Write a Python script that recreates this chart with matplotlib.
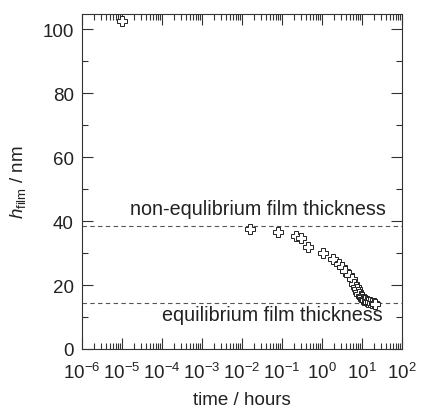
import matplotlib
matplotlib.use("Agg")
import matplotlib.pyplot as plt
from matplotlib.ticker import LogLocator, MultipleLocator, NullFormatter

plt.rcParams['font.family'] = ['Liberation Sans', 'DejaVu Sans']
plt.rcParams['mathtext.fontset'] = 'custom'
plt.rcParams['mathtext.rm'] = 'Liberation Sans'
plt.rcParams['mathtext.it'] = 'Liberation Sans:italic'

time_h = [1e-5, 0.016, 0.078, 0.23, 0.30, 0.45, 1.08, 1.9, 2.6, 3.1, 3.8, 4.6, 5.5, 6.3,
          7.0, 7.4, 8.0, 8.5, 9.2, 9.8, 10.5, 11.2, 12.0, 13.0, 14.5, 16.0, 17.4, 19.5, 21.4]
h_film = [102.5, 37.5, 36.7, 35.4, 34.6, 31.8, 29.9, 28.1, 26.6, 25.5, 24.5, 23.1, 21.9, 20.3,
          19.4, 18.75, 17.8, 17.2, 16.6, 16.1, 15.7, 15.4, 15.2, 15.0, 14.8, 14.6, 14.4, 14.3, 14.2]
noneq_h = 38.3
eq_h = 14.5

gray = '#333333'
fig = plt.figure(figsize=(4.21, 4.14), dpi=100)
ax = fig.add_axes([82/421, 64/414, 320/421, 335/414])
ax.set_xscale('log')
ax.set_xlim(1e-6, 1e2)
ax.set_ylim(0, 104.7)
ax.axhline(noneq_h, color='#555555', ls=(0, (4, 3)), lw=0.8)
ax.axhline(eq_h, color='#555555', ls=(0, (4, 3)), lw=0.8)
ax.plot(time_h, h_film, ls='none', marker='P', ms=7.5, mfc='white', mec='#222222', mew=0.7)
ax.text(1.6e-5, 42.2, 'non-equlibrium film thickness', fontsize=14.2, color='#222222')
ax.text(1.0e-4, 9.2, 'equilibrium film thickness', fontsize=14.2, color='#222222')

ax.xaxis.set_major_locator(LogLocator(base=10, numticks=20))
ax.xaxis.set_minor_locator(LogLocator(base=10, subs=range(2, 10), numticks=100))
ax.xaxis.set_minor_formatter(NullFormatter())
ax.yaxis.set_major_locator(MultipleLocator(20))
ax.yaxis.set_minor_locator(MultipleLocator(10))
ax.tick_params(which='both', direction='in', top=True, right=True, labelsize=13.5,
               width=0.8, color=gray, labelcolor='#222222')
ax.tick_params(which='major', length=8)
ax.tick_params(which='minor', length=4.5)
ax.tick_params(axis='x', which='major', pad=9)
ax.tick_params(axis='y', which='major', pad=6)
for s in ax.spines.values():
    s.set_linewidth(0.8)
    s.set_color(gray)
ax.set_xlabel('time / hours', fontsize=13.5, labelpad=7, color='#222222')
ax.set_ylabel(r'$h_{\mathrm{film}}$ / nm', fontsize=13.5, labelpad=10, color='#222222')
fig.savefig('out.png', dpi=100)
